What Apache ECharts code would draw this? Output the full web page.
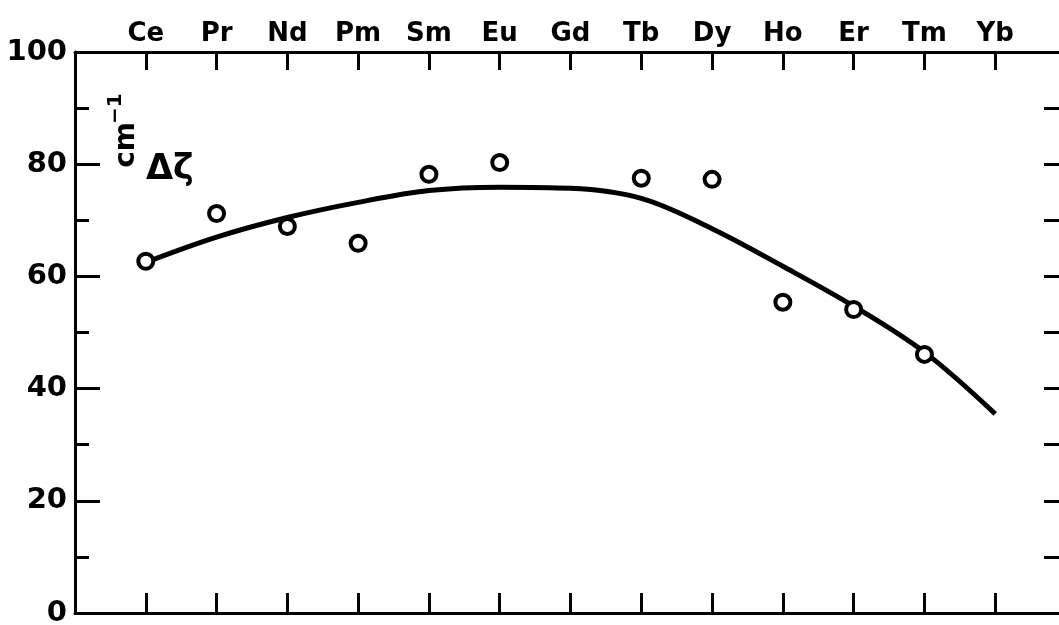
<!DOCTYPE html>
<html>
<head>
<meta charset="utf-8">
<script src="https://cdn.jsdelivr.net/npm/echarts@6/dist/echarts.min.js"></script>
<style>
html,body{margin:0;padding:0;background:#fff;}
#chart{width:1059px;height:625px;}
</style>
</head>
<body>
<div id="chart"></div>
<script>
const elements = ['Ce','Pr','Nd','Pm','Sm','Eu','Gd','Tb','Dy','Ho','Er','Tm','Yb'];
const measured = [62.7, 71.2, 68.9, 65.9, 78.2, 80.3, null, 77.5, 77.3, 55.4, 54.1, 46.1, null];
const fitted = [62.5, 67.0, 70.5, 73.2, 75.3, 75.9, 75.7, 73.9, 68.5, 61.8, 54.7, 46.5, 35.5];
const yTickValues = [0, 20, 40, 60, 80, 100];

const FONT = 'DejaVu Sans';
const chart = echarts.init(document.getElementById('chart'));

const scatterData = [];
measured.forEach((v, i) => { if (v !== null) scatterData.push([i + 1, v]); });
const lineData = fitted.map((v, i) => [i + 1, v]);

const xCommon = {
  type: 'value', min: 0, max: elements.length + 1, interval: 1,
  splitLine: {show: false},
  axisLine: {onZero: false, lineStyle: {color: '#000', width: 3}}
};

chart.setOption({
  animation: false,
  backgroundColor: '#fff',
  grid: {left: 75, top: 52, bottom: 12, right: -7, outerBoundsMode: 'none', containLabel: false},
  xAxis: [
    Object.assign({}, xCommon, {
      position: 'top',
      axisTick: {inside: true, length: 18, lineStyle: {color: '#000', width: 3}},
      axisLabel: {
        margin: 5, color: '#000', fontFamily: FONT, fontWeight: 'bold', fontSize: 26,
        formatter: v => (v >= 1 && v <= elements.length) ? elements[v - 1] : ''
      }
    }),
    Object.assign({}, xCommon, {
      position: 'bottom',
      axisTick: {inside: true, length: 20, lineStyle: {color: '#000', width: 3}},
      axisLabel: {show: false}
    })
  ],
  yAxis: [
    {
      type: 'value', min: yTickValues[0], max: yTickValues[yTickValues.length - 1], interval: 20,
      position: 'left',
      splitLine: {show: false},
      axisLine: {onZero: false, lineStyle: {color: '#000', width: 3}},
      axisTick: {inside: true, length: 25, lineStyle: {color: '#000', width: 3}},
      minorTick: {show: true, splitNumber: 2, length: 14, lineStyle: {color: '#000', width: 3}},
      axisLabel: {margin: 8, color: '#000', fontFamily: FONT, fontWeight: 'bold', fontSize: 29}
    },
    {
      type: 'value', min: 0, max: 100, interval: 10,
      position: 'right',
      splitLine: {show: false},
      axisLine: {show: true, onZero: false, lineStyle: {color: '#000', width: 3}},
      axisTick: {inside: true, length: 22, lineStyle: {color: '#000', width: 3}},
      axisLabel: {show: false}
    }
  ],
  graphic: [
    {type: 'text', left: 113, top: 122, rotation: Math.PI / 2, originX: 0, originY: 0,
     style: {text: 'cm', fill: '#000', font: 'bold 28px "DejaVu Sans"'}},
    {type: 'text', x: 126, y: 124, rotation: Math.PI / 2,
     style: {text: '−1', fill: '#000', font: 'bold 20px "DejaVu Sans"', textAlign: 'left', textVerticalAlign: 'bottom'}},
    {type: 'text', left: 146, top: 152,
     style: {text: 'Δζ', fill: '#000', font: 'bold 35px "DejaVu Sans"'}}
  ],
  series: [
    {
      type: 'line', xAxisIndex: 0, yAxisIndex: 0, data: lineData, smooth: 0.35,
      showSymbol: false, symbol: 'none', z: 2,
      lineStyle: {color: '#000', width: 5}
    },
    {
      type: 'scatter', xAxisIndex: 0, yAxisIndex: 0, data: scatterData,
      symbol: 'circle', symbolSize: 15, z: 3,
      itemStyle: {color: '#fff', borderColor: '#000', borderWidth: 4, opacity: 1}
    }
  ]
});
</script>
</body>
</html>
